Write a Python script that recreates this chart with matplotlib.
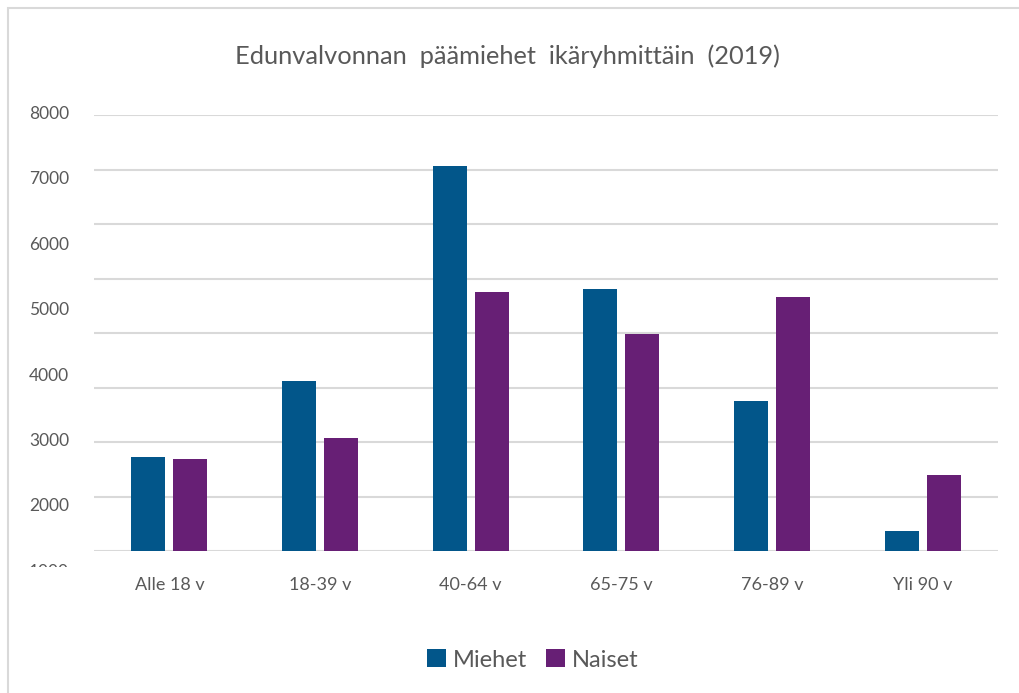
import numpy as np
import matplotlib
matplotlib.use("Agg")
import matplotlib.pyplot as plt
from matplotlib.patches import Rectangle
from matplotlib.transforms import Bbox

ryhmat = ["Alle 18 v", "18-39 v", "40-64 v", "65-75 v", "76-89 v", "Yli 90 v"]
miehet = [2730, 3890, 7190, 5300, 3590, 1600]
naiset = [2700, 3030, 5255, 4615, 5180, 2455]
y_tikit = [1000, 2000, 3000, 4000, 5000, 6000, 7000, 8000]

SININEN = "#02568A"
VIOLETTI = "#671F75"
HARMAA = "#595959"
VIIVA = "#D9D9D9"

plt.rcParams['font.family'] = ['Lato', 'DejaVu Sans']

W, H = 1020, 693
fig = plt.figure(figsize=(W / 100, H / 100), dpi=100)

def pos(x0, y0, x1, y1):
    return [x0 / W, 1 - y1 / H, (x1 - x0) / W, (y1 - y0) / H]

# kehys
fig.patches.append(Rectangle((8 / W, -0.1), 1.2, 1 - 8 / H + 0.1, transform=fig.transFigure,
                             fill=False, edgecolor=VIIVA, linewidth=1.5))

# akseli pylväille
ax = fig.add_axes(pos(94, 115, 998, 551))
ax.set_ylim(1295, 7964)
ax.set_xlim(-0.5, len(ryhmat) - 0.5)
x = np.arange(len(ryhmat))
lev = 0.225
ax.bar(x - 0.139, miehet, lev, color=SININEN, label="Miehet", zorder=3)
ax.bar(x + 0.139, naiset, lev, color=VIOLETTI, label="Naiset", zorder=3)

ax.set_yticks([])
ax.set_yticks(np.linspace(*ax.get_ylim(), 9), minor=True)
ax.yaxis.grid(True, which='minor', color=VIIVA, linewidth=1.5, zorder=0)
ax.tick_params(axis='y', which='minor', length=0, labelleft=False)
for s in ax.spines.values():
    s.set_visible(False)
ax.set_xticks(x)
ax.set_xticklabels(ryhmat, fontsize=13, color=HARMAA)
ax.tick_params(axis='x', length=0, pad=19)

# y-akselin luvut
ax_lab = fig.add_axes(pos(94, 112.5, 998, 570.3))
ax_lab.patch.set_visible(False)
ax_lab.set_ylim(1000, 8000)
ax_lab.set_yticks(y_tikit)
ax_lab.set_yticklabels([str(v) for v in y_tikit], fontsize=12.5, color=HARMAA)
ax_lab.tick_params(axis='y', length=0, pad=18)
ax_lab.set_xticks([])
for s in ax_lab.spines.values():
    s.set_visible(False)
leikkaus = Bbox.from_extents(0, H - 567, W, H)
for t in ax_lab.get_yticklabels():
    t.set_clip_box(leikkaus)
    t.set_clip_on(True)

fig.text(507 / W, 1 - 56 / H, "Edunvalvonnan  päämiehet  ikäryhmittäin  (2019)",
         ha='center', va='center', fontsize=18.3, color=HARMAA)

fig.legend(loc='center', bbox_to_anchor=(533 / W, 1 - 660 / H), ncol=2, frameon=False,
           fontsize=17, labelcolor=HARMAA, handlelength=0.8, handleheight=0.8,
           handletextpad=0.3, columnspacing=0.8)

fig.savefig("out.png", dpi=100)
